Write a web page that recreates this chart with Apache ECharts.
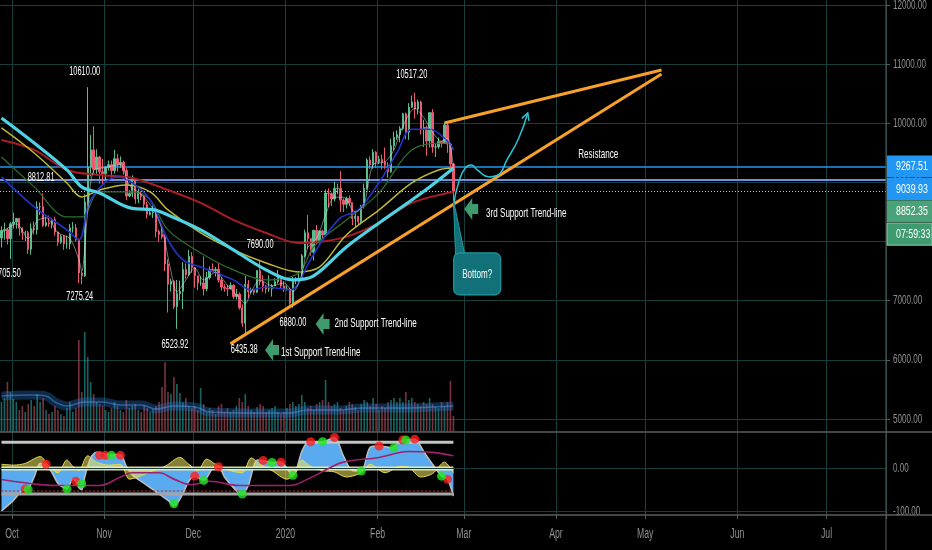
<!DOCTYPE html>
<html><head><meta charset="utf-8">
<script src="https://cdn.jsdelivr.net/npm/echarts@6/dist/echarts.min.js"></script>
<style>html,body{margin:0;padding:0;background:#000;}#c{width:932px;height:550px;}</style>
</head><body><div id="c"></div>
<script>
// ---------- DATA ----------
const startDate = [2019, 8, 27];          // 27 Sep 2019 (month 0-based)
const dayCount = 298;
const tickDates = ['2019-10-01','2019-11-01','2019-12-01','2020-01-01','2020-02-01','2020-03-01','2020-04-01','2020-05-01','2020-06-01','2020-07-01'];
const tickLabels = ['Oct','Nov','Dec','2020','Feb','Mar','Apr','May','Jun','Jul'];
const priceTicks = [5000, 6000, 7000, 8000, 9000, 10000, 11000, 12000];
const oscTicks = [0, -100];
// [open, close, low, high]
const candles = [
[8060,8190,7900,8260],[8190,8200,8030,8320],[8200,8050,7950,8230],[8050,8300,7705.5,8330],[8300,8330,8220,8490],
[8330,8390,8220,8400],[8390,8230,8100,8400],[8230,8150,8030,8240],[8150,8150,8010,8180],[8150,7870,7790,8180],
[7870,8220,7780,8310],[8220,8200,8120,8340],[8200,8590,8120,8680],[8590,8590,8450,8660],[8590,8270,8250,8812.81],
[8270,8320,8250,8420],[8320,8300,8250,8440],[8300,8370,8220,8400],[8370,8160,8100,8420],[8160,7990,7930,8170],
[7990,8090,7960,8120],[8090,7960,7860,8110],[7960,7960,7880,8100],[7960,8230,7870,8300],[8230,8230,8150,8330],
[8230,8030,8000,8300],[8030,7470,7300,8050],[7470,7420,7275.24,7500],[7420,8670,7400,8800],[8670,9260,8550,10610],
[9260,9550,9100,9800],[9550,9220,9150,9950],[9220,9430,9120,9560],[9430,9180,8980,9450],[9180,9150,8950,9400],
[9150,9250,9040,9280],[9250,9300,9200,9370],[9300,9200,9080,9370],[9200,9400,9150,9550],[9400,9300,9180,9480],
[9300,9340,9250,9440],[9340,9200,9130,9370],[9200,8770,8700,9240],[8770,8810,8750,8870],[8810,9040,8750,9120],
[9040,8720,8640,9060],[8720,8820,8650,8890],[8820,8760,8700,8850],[8760,8630,8560,8780],[8630,8460,8390,8670],
[8460,8490,8440,8530],[8490,8500,8400,8640],[8500,8170,8070,8520],[8170,8120,8000,8200],[8120,8080,8040,8220],
[8080,7620,7500,8120],[7620,7280,6800,7700],[7280,7330,7150,7370],[7330,6900,6860,7350],[6900,7120,6523.92,7350],
[7120,7160,7010,7340],[7160,7530,6860,7650],[7530,7440,7370,7630],[7440,7750,7420,7860],[7750,7560,7470,7820],
[7560,7420,7220,7570],[7420,7300,7180,7420],[7300,7300,7250,7410],[7300,7200,7090,7750],[7200,7390,7160,7490],
[7390,7530,7360,7580],[7530,7510,7480,7630],[7510,7530,7410,7570],[7530,7350,7310,7640],[7350,7230,7170,7400],
[7230,7210,7150,7280],[7210,7200,7080,7270],[7200,7260,7210,7310],[7260,7070,7030,7280],[7070,7110,7020,7200],
[7110,6880,6850,7140],[6880,6620,6560,6940],[6620,7280,6435.38,7420],[7280,7150,7050,7350],[7150,7190,7120,7220],
[7190,7145,7100,7200],[7145,7510,7130,7520],[7510,7320,7260,7690],[7320,7250,7150,7430],[7250,7200,7120,7270],
[7200,7200,7150,7430],[7200,7250,7070,7280],[7250,7320,7250,7380],[7320,7390,7290,7520],[7390,7250,7200,7410],
[7250,7200,7150,7330],[7200,7200,7170,7260],[7200,6960,6930,7220],[6960,7340,6880,7400],[7340,7350,7280,7400],
[7350,7350,7320,7500],[7350,7760,7340,7790],[7760,8150,7730,8200],[8150,8050,7880,8450],[8050,7820,7760,8050],
[7820,8190,7680,8200],[8190,8020,7990,8280],[8020,8180,7960,8190],[8180,8110,8050,8200],[8110,8820,8100,8880],
[8820,8810,8580,8900],[8810,8720,8600,8830],[8720,8900,8680,9010],[8900,8900,8800,8980],[8900,8700,8500,9190],
[8700,8630,8500,8730],[8630,8730,8560,8760],[8730,8660,8600,8780],[8660,8390,8280,8660],[8390,8430,8240,8520],
[8430,8340,8280,8430],[8340,8600,8290,8620],[8600,8900,8560,8980],[8900,9380,8880,9410],[9380,9300,9230,9440],
[9300,9510,9230,9560],[9510,9350,9250,9530],[9350,9390,9310,9450],[9390,9340,9220,9470],[9340,9290,9230,9590],
[9290,9180,9080,9340],[9180,9620,9160,9740],[9620,9760,9550,9860],[9760,9810,9720,9880],[9810,9910,9680,9950],
[9910,10160,9880,10180],[10160,9850,9730,10180],[9850,10270,9720,10340],[10270,10360,10260,10470],[10360,10240,10080,10517.2],
[10240,10360,10150,10400],[10360,9900,9810,10380],[9900,9930,9600,10060],[9930,9700,9450,9960],[9700,10180,9590,10190],
[10180,9600,9500,10240],[9600,9600,9430,9650],[9600,9690,9570,9760],[9690,9660,9590,9700],[9660,9970,9650,10010],
[9970,9650,9500,9990],[9650,9310,9260,9660],[9310,8852.35,8550,9330]
];
// volume, in panel units (0-100)
const volumes = [
30,34,50,40,33,30,22,26,20,28, 32,26,38,30,34,22,18,20,26,22, 18,16,24,30,20,24,92,40,107,75,
50,38,30,28,26,22,20,24,30,26, 22,20,32,24,26,28,22,20,27,24, 20,23,26,30,45,70,40,38,55,48,
39,30,34,26,24,26,22,44,28,20, 24,22,18,26,28,20,24,20,22,26, 34,30,38,26,22,20,25,28,26,20,
22,24,26,20,18,20,24,28,30,26, 28,37,30,24,26,22,28,30,32,52, 30,26,28,30,24,22,26,30,28,25,
22,28,32,30,26,34,28,22,26,24, 30,32,34,30,34,30,40,32,34,30, 28,26,30,28,34,28,25,24,30,26,
30,51,16
];
const volumeMA = [[0,36],[10,37],[15,36],[18,30],[22,26],[28,30],[34,30],[40,27],[47,27],[52,23],[58,26],[65,25],[70,20],[85,19],[97,19],[103,22],[113,22],[122,24],[135,24],[145,25],[152,26]];
// moving averages [dayIndex, price]
const maCyan = [[0,10090],[11,9667],[22,9211],[27,8924],[33,8822],[44,8560],[51,8540],[56,8450],[67,8197],[78,7859],[89,7521],[98,7352],[105,7420],[116,7909],[127,8315],[138,8704],[144,8924],[150,9160],[152,9245]];
const maRed = [[0,9718],[11,9549],[22,9211],[33,9126],[44,9076],[56,8873],[67,8653],[78,8366],[89,8146],[100,7977],[107,7994],[116,8079],[127,8315],[138,8653],[150,8822],[152,8839]];
const maYellow = [[0,9921],[11,9498],[22,8991],[27,8755],[33,8873],[42,8957],[50,8839],[56,8535],[67,8146],[78,7859],[89,7639],[100,7487],[107,7571],[116,8112],[127,8535],[138,8991],[147,9211],[152,9245]];
const maGreen = [[0,9431],[11,8924],[22,8417],[27,8417],[33,8839],[44,8839],[50,8704],[56,8197],[67,7808],[78,7521],[89,7352],[100,7470],[105,7909],[116,8366],[127,8822],[138,9549],[150,9667],[152,9549]];
const maBlue = [[0,9093],[11,8586],[22,8197],[26,8028],[30,8704],[39,9093],[44,8991],[50,8704],[56,8028],[61,7690],[67,7571],[78,7352],[84,7183],[89,7233],[97,7183],[104,7700],[108,8028],[114,8400],[120,8535],[127,9000],[133,9500],[138,9900],[144,9900],[150,9700],[152,9550]];
const maFast = [[0,8150],[5,8300],[9,8050],[12,8350],[15,8400],[19,8150],[23,8050],[26,7700],[27,7500],[29,8500],[31,9200],[35,9250],[40,9300],[43,8950],[47,8800],[51,8550],[54,8200],[57,7500],[59,7150],[62,7350],[65,7550],[68,7350],[72,7480],[76,7260],[80,7050],[82,6950],[84,7150],[87,7350],[91,7250],[95,7300],[98,7150],[101,7450],[103,7900],[106,8050],[109,8450],[112,8750],[115,8750],[119,8500],[122,8650],[125,9300],[129,9350],[132,9550],[135,9950],[139,10250],[142,10100],[145,9850],[148,9700],[150,9750],[152,9250]];
// drawings
const trendLower = [[77,6270],[222,10834]];
const trendUpper = [[149,10005],[222,10901]];
const projection = [[152,8619],[154,9042],[156,9245],[158,9295],[160,9211],[164,9093],[167,9126],[170,9380],[174,9752],[177,10174]];
const levelResistance = 9267.51;
const levelSupport = 9039.93;
const lastPrice = 8852.35;
const timerText = '07:59:33';
const priceNotes = [[29,10610,'10610.00'],[139,10517.2,'10517.20'],[14,8812.81,'8812.81'],[3,7705.5,'7705.50'],[27,7275.24,'7275.24'],[59,6523.92,'6523.92'],[82,6435.38,'6435.38'],[98,6880,'6880.00'],[87,7690,'7690.00']];
const textNotes = [[94,6118,'1st Support Trend-line'],[112,6608,'2nd Support Trend-line'],[163,8484,'3rd Support Trend-line'],[194,9481,'Resistance']];
const arrowNotes = [[91,6168],[108,6608],[158,8552]];
const callout = {anchor:[160,7453], tip:[152,8704], text:'Bottom?'};
// oscillator [dayIndex, value]
const oscWave = [[0,-100],[4,-75],[7,-52],[9,-48],[11,-20],[13,12],[15,8],[17,-10],[19,-35],[22,-48],[24,-25],[25,-30],[26,-45],[27,-50],[28,-20],[30,25],[32,38],[36,33],[38,33],[40,33],[42,5],[44,-15],[48,-35],[52,-55],[56,-75],[58,-88],[59,-83],[61,-60],[63,-30],[65,-19],[68,-28],[71,0],[73,5],[75,-20],[78,-45],[81,-62],[83,-40],[86,20],[88,19],[91,14],[94,15],[98,-17],[101,40],[103,62],[105,63],[108,63],[112,73],[115,30],[118,-5],[121,-6],[124,50],[127,53],[131,49],[135,67],[136,67],[139,69],[142,40],[145,10],[148,-18],[150,-25],[152,-65]];
const oscYellow = [[0,10],[4,8],[8,12],[13,28],[16,5],[19,-10],[22,20],[24,5],[26,-5],[29,30],[32,15],[36,8],[40,10],[43,-25],[46,-20],[50,-8],[55,5],[60,26],[63,10],[66,-5],[69,22],[72,10],[77,-5],[81,-10],[84,25],[87,10],[91,-5],[96,-25],[99,-10],[101,20],[104,5],[108,-5],[112,-8],[116,-20],[121,-10],[124,10],[129,-10],[134,5],[137,3],[141,-20],[145,-12],[149,15],[152,-10]];
const oscPurple = [[0,-26],[13,-38],[20,-40],[33,-40],[40,-20],[44,-10],[53,-10],[58,-25],[64,-38],[70,-30],[80,-40],[97,-40],[103,-25],[110,0],[115,15],[127,26],[137,40],[145,38],[152,30]];
const oscBands = {top:62, bottom:-60, dots:-53, mid:0, from:0, to:152};
const redDots = [[8,-48],[15,10],[25,-30],[33,31],[35,31],[40,31],[65,-18],[73,4],[88,19],[94,15],[104,63],[112,73],[127,53],[135,67],[139,69],[150,-25]];
const greenDots = [[9,-50],[22,-48],[27,-36],[37,31],[58,-83],[68,-28],[81,-60],[91,14],[98,-16],[108,63],[121,-6],[132,49],[136,67],[148,-18]];

// ---------- CHART ----------
const categories = [];
{ const d0 = Date.UTC(startDate[0], startDate[1], startDate[2]);
  for (let i = 0; i < dayCount; i++) categories.push(new Date(d0 + i * 86400000).toISOString().slice(0, 10)); }

const GRID = '#173d3d';
const AXIS = '#5c5c5c';
const LBL = '#909090';
const UP = '#5bbd8e', DOWN = '#ec5a72';

const chart = echarts.init(document.getElementById('c'), null, {renderer: 'canvas'});
const hidX = (gi) => ({type:'category', gridIndex:gi, data:categories, show:false, boundaryGap:true});
const isTick = (i, v) => tickDates.indexOf(v) >= 0;
const gridBase = {left:0, width:886, outerBoundsMode:'none', containLabel:false};

const option = {
  backgroundColor: '#000',
  animation: false,
  grid: [
    Object.assign({top:0, height:515}, gridBase),
    Object.assign({top:5, height:414}, gridBase),
    Object.assign({top:332, height:100}, gridBase),
    Object.assign({top:426, height:85}, gridBase)
  ],
  xAxis: [
    {type:'category', gridIndex:0, data:categories, boundaryGap:true,
     axisLine:{show:false}, axisTick:{show:true, interval:isTick, length:4, lineStyle:{color:AXIS}},
     axisLabel:{show:false},
     splitLine:{show:true, interval:isTick, lineStyle:{color:GRID, width:1}}},
    hidX(1), hidX(2), hidX(3)
  ],
  yAxis: [
    {type:'value', gridIndex:0, show:false, splitLine:{show:false}},
    {type:'value', gridIndex:1, position:'right', min:5000, max:12000, interval:1000,
     axisLine:{show:false}, axisTick:{show:true, length:4, lineStyle:{color:AXIS}},
     axisLabel:{show:false},
     splitLine:{show:true, lineStyle:{color:GRID, width:1}}},
    {type:'value', gridIndex:2, show:false, min:0, max:100, splitLine:{show:false}},
    {type:'value', gridIndex:3, position:'right', min:-100, max:100, interval:100,
     axisLine:{show:false}, axisTick:{show:false}, axisLabel:{show:false}, splitLine:{show:false}}
  ],
  series: [
    {type:'candlestick', xAxisIndex:1, yAxisIndex:1, data:candles, barWidth:'62%', z:3,
     itemStyle:{color:UP, color0:DOWN, borderColor:UP, borderColor0:DOWN, borderWidth:1},
     markLine:{silent:true, symbol:'none', label:{show:false}, z:2,
       data:[
         {yAxis:levelResistance, lineStyle:{color:'#2196f3', width:1.6, type:'solid'}},
         {yAxis:levelSupport, lineStyle:{color:'#6f90dc', width:2.2, type:'solid'}},
         {yAxis:lastPrice, lineStyle:{color:'#c9c9c9', width:1, type:[1,2]}}
       ]}},
    {type:'line', xAxisIndex:1, yAxisIndex:1, data:maRed, smooth:0.35, symbol:'none', lineStyle:{color:'#a81e24', width:2}, z:4},
    {type:'line', xAxisIndex:1, yAxisIndex:1, data:maYellow, smooth:0.35, symbol:'none', lineStyle:{color:'#bdb736', width:1.5}, z:4},
    {type:'line', xAxisIndex:1, yAxisIndex:1, data:maGreen, smooth:0.35, symbol:'none', lineStyle:{color:'#2f6e2f', width:1.2}, z:4},
    {type:'line', xAxisIndex:1, yAxisIndex:1, data:maBlue, smooth:0.35, symbol:'none', lineStyle:{color:'#2433c8', width:1.6}, z:4},
    {type:'line', xAxisIndex:1, yAxisIndex:1, data:maFast, smooth:0.3, symbol:'none', lineStyle:{color:'rgba(215,215,215,0.55)', width:1}, z:4},
    {type:'line', xAxisIndex:1, yAxisIndex:1, data:maCyan, smooth:0.35, symbol:'none', lineStyle:{color:'#4fd2e4', width:3.2}, z:5},
    {type:'line', xAxisIndex:1, yAxisIndex:1, data:trendLower, symbol:'none', lineStyle:{color:'#f7a12b', width:3}, z:6},
    {type:'line', xAxisIndex:1, yAxisIndex:1, data:trendUpper, symbol:'none', lineStyle:{color:'#f7a12b', width:3}, z:6},
    {type:'line', xAxisIndex:1, yAxisIndex:1, data:projection, smooth:0.5, symbol:'none', lineStyle:{color:'#2cc3d3', width:1.5}, z:6},
    {type:'bar', xAxisIndex:2, yAxisIndex:2, barWidth:'55%', z:1,
     data:volumes.map((v,i)=>({value:v, itemStyle:{color: candles[i][1] >= candles[i][0] ? 'rgba(40,160,160,0.62)' : 'rgba(190,80,100,0.62)'}}))},
    {type:'line', xAxisIndex:2, yAxisIndex:2, data:volumeMA, smooth:0.4, symbol:'none', lineStyle:{color:'rgba(40,120,210,0.35)', width:9}, z:2},
    {type:'line', xAxisIndex:2, yAxisIndex:2, data:volumeMA, smooth:0.4, symbol:'none', lineStyle:{color:'rgba(90,160,230,0.45)', width:1.5}, z:2},
    {type:'line', xAxisIndex:3, yAxisIndex:3, data:oscWave, smooth:0.3, symbol:'none', z:2,
     lineStyle:{color:'#bdbdbd', width:1.5}, areaStyle:{color:'#5aaaf0', opacity:1},
     markLine:{silent:true, symbol:'none', label:{show:false}, data:[{yAxis:0},{yAxis:-100}], lineStyle:{color:GRID, width:1, type:'solid'}}},
    {type:'line', xAxisIndex:3, yAxisIndex:3, data:oscYellow, smooth:0.3, symbol:'none', z:3,
     lineStyle:{color:'#e2d850', width:1}, areaStyle:{color:'rgba(232,222,96,0.82)'}},
    {type:'line', xAxisIndex:3, yAxisIndex:3, data:[[oscBands.from,oscBands.mid],[oscBands.to,oscBands.mid]], symbol:'none', lineStyle:{color:'rgba(245,240,170,0.9)', width:4}, z:4},
    {type:'line', xAxisIndex:3, yAxisIndex:3, data:[[oscBands.from,oscBands.top],[oscBands.to,oscBands.top]], symbol:'none', lineStyle:{color:'#c4c4c4', width:3}, z:4},
    {type:'line', xAxisIndex:3, yAxisIndex:3, data:[[oscBands.from,oscBands.bottom],[oscBands.to,oscBands.bottom]], symbol:'none', lineStyle:{color:'#a5a5a5', width:3}, z:4},
    {type:'line', xAxisIndex:3, yAxisIndex:3, data:[[oscBands.from,oscBands.dots],[oscBands.to,oscBands.dots]], symbol:'none', lineStyle:{color:'#d02020', width:2, type:[1,3]}, z:4},
    {type:'line', xAxisIndex:3, yAxisIndex:3, data:oscPurple, smooth:0.4, symbol:'none', lineStyle:{color:'#a0206a', width:1.6}, z:5},
    {type:'scatter', xAxisIndex:3, yAxisIndex:3, data:redDots, symbolSize:9, itemStyle:{color:'#ff1e1e'}, z:6},
    {type:'scatter', xAxisIndex:3, yAxisIndex:3, data:greenDots, symbolSize:9, itemStyle:{color:'#20e620'}, z:6}
  ]
};
chart.setOption(option);

// ---------- ANNOTATIONS (positioned through the chart scales) ----------
const px = (d) => chart.convertToPixel({seriesIndex:0}, d);
const pxOsc = (v) => chart.convertToPixel({yAxisIndex:3}, v);
const pxX0 = (i) => chart.convertToPixel({xAxisIndex:0}, i);
const TXT = "'Liberation Sans',Arial,sans-serif";
const SQ = 0.62;
const g = [];
const txt = (x, y, text, size, fill, align, sx, z) => ({type:'text', x:x, y:y, scaleX:sx || SQ, z:z || 20,
  style:{text:text, fill:fill, font:size + 'px ' + TXT, textAlign:align, textVerticalAlign:'middle'}});

// axis labels (condensed like the reference)
priceTicks.forEach((v) => g.push(txt(893, px([0, v])[1], v.toFixed(2), 13, LBL, 'left', 0.62, 25)));
oscTicks.forEach((v) => g.push(txt(893, pxOsc(v), v.toFixed(2), 13, LBL, 'left', 0.62, 25)));
{
  const band = pxX0(1) - pxX0(0);
  tickDates.forEach((d, k) => {
    const i = categories.indexOf(d);
    g.push(txt(pxX0(i) - band / 2, 534, tickLabels[k], 14, LBL, 'center', 0.62, 25));
  });
}

const noteOffsets = [[-3,-16],[-3,-18],[-2,-16],[-3,15],[-2,12],[-2,16],[-1,16],[0,15],[0,-15]];
priceNotes.forEach((n, k) => {
  const p = px([n[0], n[1]]);
  g.push(txt(p[0]+noteOffsets[k][0], p[1]+noteOffsets[k][1], n[2], 12, '#ffffff', 'center'));
});
textNotes.forEach((n) => {
  const p = px([n[0], n[1]]);
  g.push(txt(p[0], p[1], n[2], 13, '#ffffff', 'left'));
});
arrowNotes.forEach((a) => {
  const p = px(a);
  g.push({type:'polygon', x:p[0], y:p[1], z:20,
    shape:{points:[[-7,0],[1,-11],[1,-5],[7,-5],[7,5],[1,5],[1,11]]},
    style:{fill:'#3f9a6e'}});
});
// callout
{
  const c = px(callout.anchor), t = px(callout.tip);
  const w = 47, h = 42, L = c[0]-w/2, T = c[1]-h/2;
  g.push({type:'polygon', z:19, shape:{points:[[t[0],t[1]],[L+2,T+6],[L+12,T+6]]}, style:{fill:'#127078', stroke:'#1f9aa2', lineWidth:1}});
  g.push({type:'rect', z:20, shape:{x:L, y:T, width:w, height:h, r:6}, style:{fill:'#127078', stroke:'#1f9aa2', lineWidth:1.2}});
  g.push(txt(c[0], c[1], callout.text, 13, '#ffffff', 'center', SQ, 21));
}
// arrow head of projection curve
{
  const a = px(projection[projection.length-2]), b = px(projection[projection.length-1]);
  const ang = Math.atan2(b[1]-a[1], b[0]-a[0]), L = 8;
  const p1 = [b[0]-L*Math.cos(ang-0.5), b[1]-L*Math.sin(ang-0.5)];
  const p2 = [b[0]-L*Math.cos(ang+0.5), b[1]-L*Math.sin(ang+0.5)];
  g.push({type:'polyline', z:20, shape:{points:[p1,b,p2]}, style:{stroke:'#2cc3d3', lineWidth:1.5, fill:null}});
}
// right-axis price tags
{
  const tags = [
    {v:levelResistance, text:levelResistance.toFixed(2), dy:0, fill:'#2196f3', stroke:null},
    {v:levelSupport, text:levelSupport.toFixed(2), dy:9, fill:'#2196f3', stroke:null},
    {v:lastPrice, text:lastPrice.toFixed(2), dy:20, fill:'#4aa27a', stroke:null},
    {v:lastPrice, text:timerText, dy:43, fill:'#3f9a70', stroke:'#8ad2ac'}
  ];
  tags.forEach((tg) => {
    const y = px([0, tg.v])[1] + tg.dy;
    g.push({type:'rect', z:30, shape:{x:887, y:y-11, width:45, height:22}, style:{fill:tg.fill, stroke:tg.stroke, lineWidth:1}});
    g.push(txt(896, y, tg.text, 13, '#ffffff', 'left', 0.68, 31));
  });
}
// pane separators and right axis line
g.push({type:'line', z:40, shape:{x1:886, y1:0, x2:886, y2:550}, style:{stroke:AXIS, lineWidth:1}});
g.push({type:'line', z:40, shape:{x1:0, y1:432, x2:932, y2:432}, style:{stroke:AXIS, lineWidth:1.5}});
g.push({type:'line', z:40, shape:{x1:0, y1:515, x2:932, y2:515}, style:{stroke:AXIS, lineWidth:1.5}});
chart.setOption({graphic:{elements:g}});
</script></body></html>
